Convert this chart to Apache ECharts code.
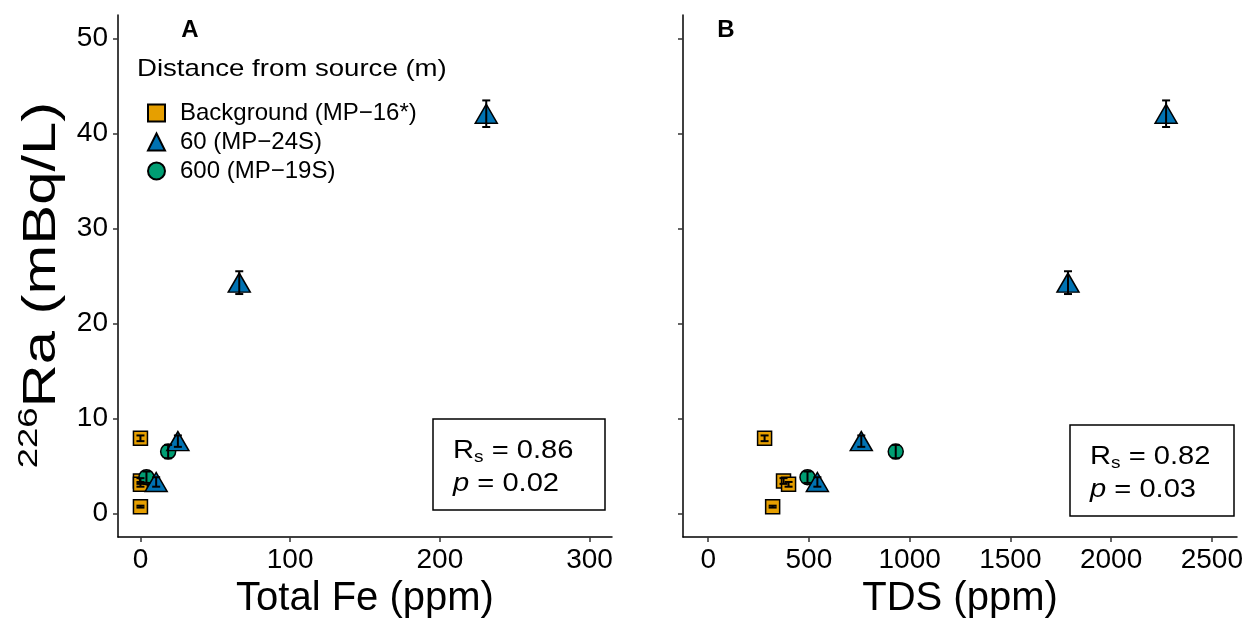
<!DOCTYPE html>
<html><head><meta charset="utf-8">
<script src="https://cdn.jsdelivr.net/npm/echarts@6/dist/echarts.min.js"></script>
<style>html,body{margin:0;padding:0;background:#fff}#c{width:1250px;height:619px}</style>
</head><body><div id="c"></div>
<script>
// ---- data ----
const groupNames = ['Background (MP\u221216*)', '60 (MP\u221224S)', '600 (MP\u221219S)'];
const bgFe  = [0, 0, 0, 0];
const bgTDS = [280, 374, 399, 320];
const bgRa  = [7.9, 3.4, 3.05, 0.7];
const bgErr = [0.3, 0.3, 0.25, 0.1];
const d60Fe  = [231, 66, 25, 10.5];
const d60TDS = [2273, 1786, 760, 542];
const d60Ra  = [42.1, 24.3, 7.6, 3.3];
const d60Err = [1.4, 1.2, 0.6, 0.5];
const d600Fe  = [18.5, 4];
const d600TDS = [931, 493];
const d600Ra  = [6.5, 3.8];
const d600Err = [0.7, 0.6];
const feTicks  = [0, 100, 200, 300];
const tdsTicks = [0, 500, 1000, 1500, 2000, 2500];
const raTicks  = [0, 10, 20, 30, 40, 50];
const statsA = ['0.86', '0.02'];
const statsB = ['0.82', '0.03'];

const FONT = 'Liberation Sans, Arial, sans-serif';
const colors = ['#E69F00', '#0072B2', '#009E73'];
const symbols = ['rect', 'triangle', 'circle'];
const sizes = [14, [22, 19], 15];

function zip(xs, ys, es) { return xs.map((x, i) => es ? [x, ys[i], es[i]] : [x, ys[i]]); }

const groups = [
  {name: groupNames[0], fe: bgFe, tds: bgTDS, ra: bgRa, err: bgErr, c: 0},
  {name: groupNames[2], fe: d600Fe, tds: d600TDS, ra: d600Ra, err: d600Err, c: 2},
  {name: groupNames[1], fe: d60Fe, tds: d60TDS, ra: d60Ra, err: d60Err, c: 1}
];

function errRender(params, api) {
  const x = api.value(0), y = api.value(1), e = api.value(2);
  const top = api.coord([x, y + e]);
  const bot = api.coord([x, y - e]);
  const hw = 4;
  const st = {stroke: '#000', lineWidth: 2};
  return {type: 'group', children: [
    {type: 'line', shape: {x1: top[0], y1: top[1], x2: bot[0], y2: bot[1]}, style: st},
    {type: 'line', shape: {x1: top[0] - hw, y1: top[1], x2: top[0] + hw, y2: top[1]}, style: st},
    {type: 'line', shape: {x1: bot[0] - hw, y1: bot[1], x2: bot[0] + hw, y2: bot[1]}, style: st}
  ]};
}

const series = [];
[0, 1].forEach(p => {
  groups.forEach(g => {
    series.push({
      type: 'scatter', name: g.name, xAxisIndex: p, yAxisIndex: p,
      data: zip(p === 0 ? g.fe : g.tds, g.ra),
      symbol: symbols[g.c], symbolSize: sizes[g.c],
      itemStyle: {color: colors[g.c], borderColor: '#000', borderWidth: 1.5, opacity: 1},
      emphasis: {disabled: true}, z: 2
    });
  });
  groups.forEach(g => {
    series.push({
      type: 'custom', name: 'err', xAxisIndex: p, yAxisIndex: p,
      data: zip(p === 0 ? g.fe : g.tds, g.ra, g.err),
      renderItem: errRender, encode: {x: 0, y: 1}, z: 3, silent: true
    });
  });
});

const axisLine = {show: true, onZero: false, lineStyle: {color: '#000', width: 1.5}};
const axisTick = {show: true, length: 5, lineStyle: {color: '#333', width: 1.5}};
const tickLabel = {color: '#000', fontSize: 28, fontFamily: FONT, formatter: v => String(v)};

function xAx(idx, min, max, ticks, name) {
  return {
    type: 'value', gridIndex: idx, min: min, max: max,
    axisLine: axisLine,
    axisTick: Object.assign({customValues: ticks}, axisTick),
    axisLabel: Object.assign({customValues: ticks, margin: 9}, tickLabel),
    splitLine: {show: false},
    name: name, nameLocation: 'middle', nameGap: 38,
    nameTextStyle: {color: '#000', fontSize: 40, fontFamily: FONT}
  };
}
function yAx(idx, showLabels) {
  return {
    type: 'value', gridIndex: idx, min: -2.5, max: 52.5,
    axisLine: axisLine,
    axisTick: Object.assign({customValues: raTicks}, axisTick),
    axisLabel: Object.assign({customValues: raTicks, margin: 10, show: showLabels}, tickLabel),
    splitLine: {show: false}
  };
}

function statsBox(x, y, w, h, vals) {
  const base = {fontSize: 26, fontFamily: FONT, fill: '#000', lineHeight: 31};
  return [
    {type: 'rect', shape: {x: x, y: y, width: w, height: h},
     style: {fill: '#fff', stroke: '#000', lineWidth: 1.5}, z: 10},
    {type: 'text', x: x + 20, y: y + 16, scaleX: 1.12, z: 11,
     style: {text: '{r|R}{s|s}{t| = ' + vals[0] + '}',
       rich: {
         r: base,
         s: {fontSize: 17, fontFamily: FONT, fill: '#000', lineHeight: 31, verticalAlign: 'bottom'},
         t: base
       }}},
    {type: 'text', x: x + 20, y: y + 49, scaleX: 1.12, z: 11,
     style: {text: '{p|p}{t| = ' + vals[1] + '}',
       rich: {
         p: Object.assign({fontStyle: 'italic'}, base),
         t: base
       }}}
  ];
}

const chart = echarts.init(document.getElementById('c'), null, {renderer: 'canvas'});
chart.setOption({
  backgroundColor: '#fff',
  animation: false,
  grid: [
    {left: 118, right: 638, top: 15, bottom: 82, containLabel: false, outerBoundsMode: 'none'},
    {left: 683, right: 13, top: 15, bottom: 82, containLabel: false, outerBoundsMode: 'none'}
  ],
  xAxis: [xAx(0, -15, 315, feTicks, 'Total Fe (ppm)'), xAx(1, -125, 2625, tdsTicks, 'TDS (ppm)')],
  yAxis: [yAx(0, true), yAx(1, false)],
  legend: {
    data: [
      {name: groupNames[0], icon: 'rect'},
      {name: groupNames[1], icon: 'triangle'},
      {name: groupNames[2], icon: 'circle'}
    ],
    orient: 'vertical', left: 142, top: 96,
    itemWidth: 17, itemHeight: 17, itemGap: 5,
    textStyle: {color: '#000', fontSize: 24, fontFamily: FONT, padding: [0, 0, 0, 10]},
    selectedMode: false
  },
  graphic: [
    {type: 'text', x: 137, y: 57, scaleX: 1.15, style: {text: 'Distance from source (m)', fontSize: 24, fontFamily: FONT, fill: '#000'}},
    {type: 'text', x: 190, y: 30, style: {text: 'A', fontSize: 24, fontWeight: 'bold', fontFamily: FONT, fill: '#000', align: 'center', verticalAlign: 'middle'}},
    {type: 'text', x: 726, y: 30, style: {text: 'B', fontSize: 24, fontWeight: 'bold', fontFamily: FONT, fill: '#000', align: 'center', verticalAlign: 'middle'}},
    {type: 'text', x: 42, y: 285, rotation: Math.PI / 2, scaleX: 1.3,
     style: {text: '{sup|226}{m|Ra (mBq/L)}', align: 'center', verticalAlign: 'middle',
       rich: {
         sup: {fontSize: 28, fontFamily: FONT, fill: '#000', lineHeight: 54, verticalAlign: 'top'},
         m: {fontSize: 46, fontFamily: FONT, fill: '#000', lineHeight: 54}
       }}}
  ].concat(statsBox(433, 419, 172, 91, statsA), statsBox(1070, 425, 164, 91, statsB)),
  series: series
});
</script></body></html>
